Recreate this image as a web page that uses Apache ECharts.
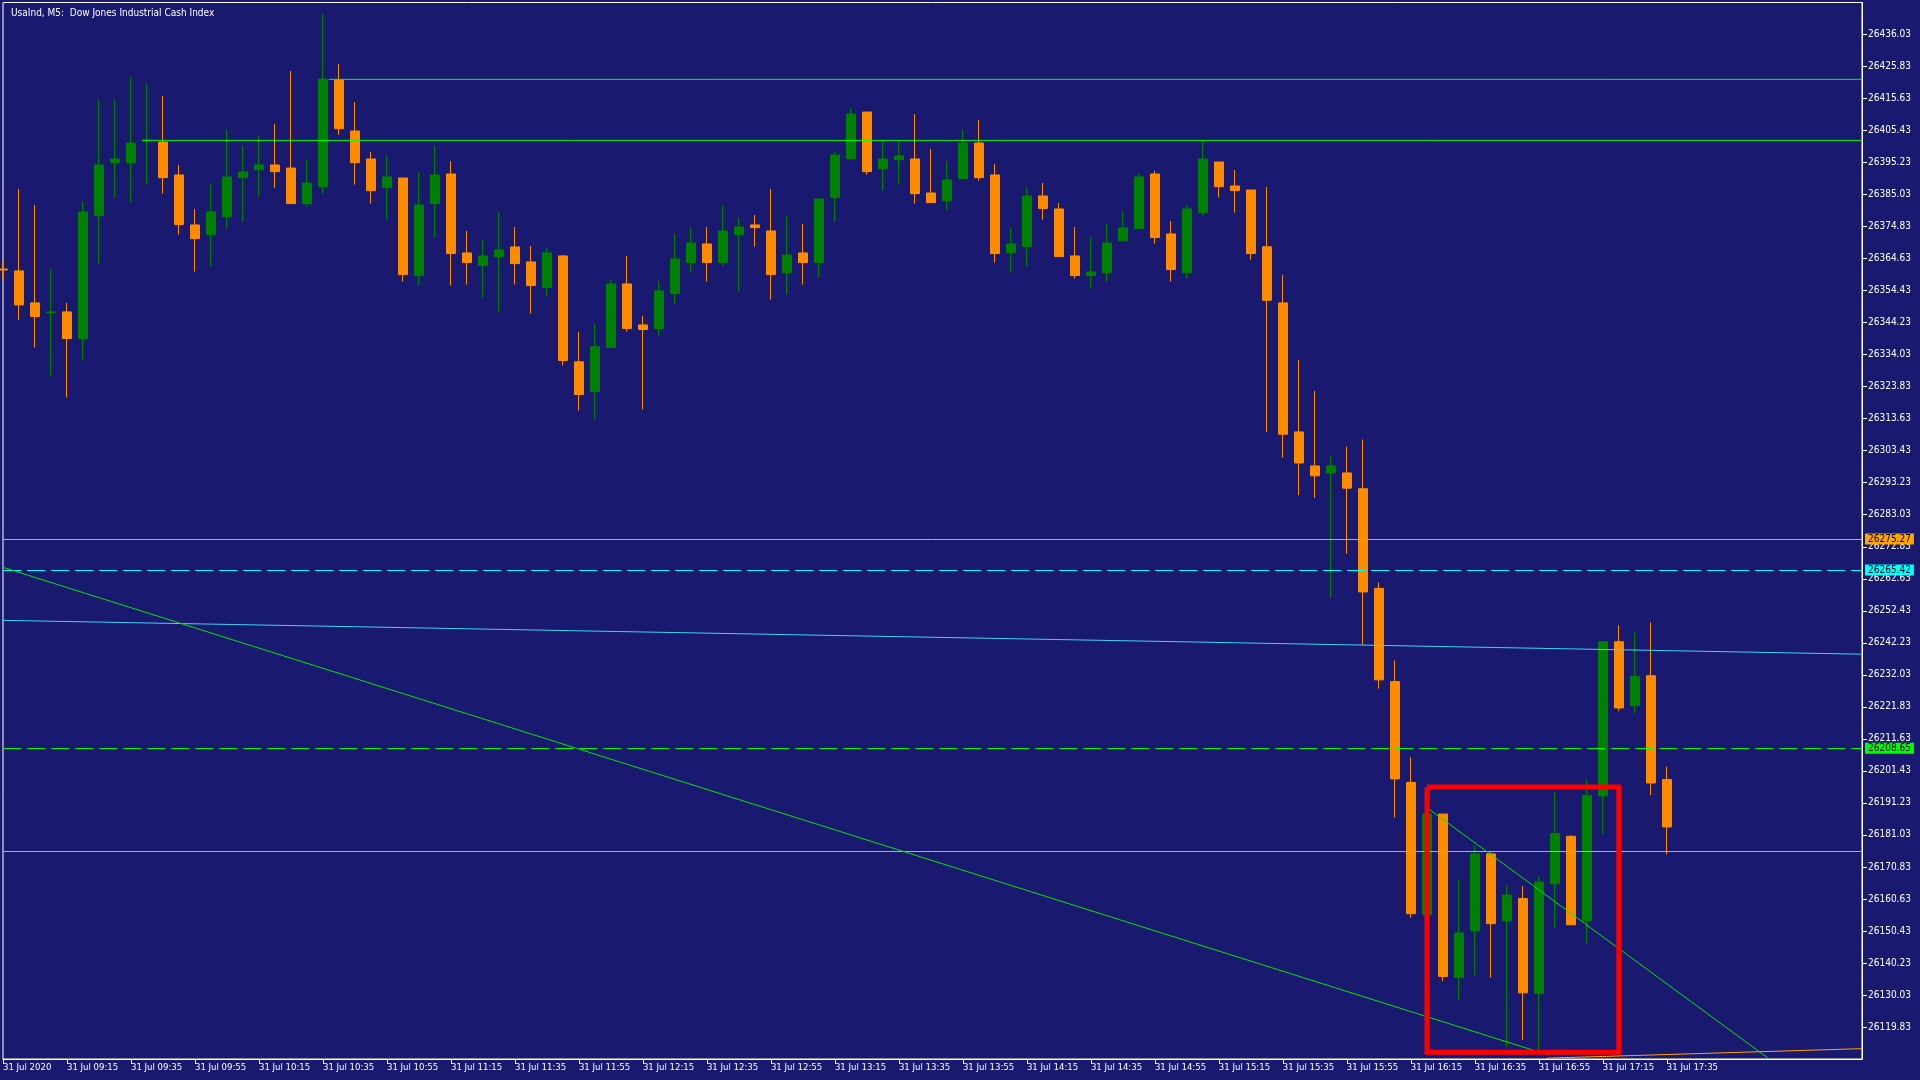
<!DOCTYPE html>
<html>
<head>
<meta charset="utf-8">
<title>UsaInd M5</title>
<script src="https://cdn.jsdelivr.net/npm/echarts@6/dist/echarts.min.js"></script>
<style>
  html, body { margin: 0; padding: 0; background: #191970; }
  #main { width: 1920px; height: 1080px; }
</style>
</head>
<body>
<div id="main"></div>
<script>
// M5 candles, 31 Jul 2020 08:55 .. 17:35 (index 0..104)
const opens = [
  26361.30, 26360.71, 26350.52, 26347.45, 26347.66, 26339.17, 26378.33, 26395.20, 26395.20, 26402.20,
  26401.78, 26391.28, 26375.36, 26372.28, 26378.01, 26390.43, 26392.97, 26394.46, 26393.50, 26382.15,
  26387.56, 26421.52, 26405.28, 26396.37, 26387.24, 26390.32, 26359.23, 26382.15, 26391.60, 26366.44,
  26362.41, 26365.28, 26368.35, 26363.58, 26355.41, 26365.49, 26331.74, 26322.30, 26336.31, 26356.57,
  26343.52, 26342.35, 26353.50, 26363.37, 26369.31, 26363.37, 26372.28, 26375.36, 26373.45, 26360.18,
  26366.44, 26363.37, 26384.06, 26396.48, 26411.33, 26393.29, 26396.16, 26396.37, 26385.55, 26383.11,
  26390.11, 26401.47, 26391.28, 26366.55, 26368.46, 26384.59, 26380.45, 26365.49, 26359.23, 26360.18,
  26370.37, 26374.19, 26391.60, 26372.49, 26360.18, 26379.29, 26395.42, 26387.78, 26386.50, 26368.40,
  26350.51, 26309.42, 26298.59, 26296.35, 26296.35, 26291.31, 26259.56, 26229.87, 26197.75, 26155.55,
  26187.67, 26135.57, 26150.51, 26174.97, 26153.68, 26160.78, 26130.52, 26165.45, 26180.57, 26153.68,
  26193.46, 26242.57, 26222.21, 26231.74, 26198.69
];
const closes = [
  26361.00, 26349.89, 26346.17, 26347.65, 26339.17, 26379.50, 26394.46, 26396.37, 26401.46, 26402.40,
  26390.43, 26375.46, 26371.01, 26379.50, 26390.64, 26392.23, 26394.46, 26392.34, 26382.15, 26388.73,
  26421.84, 26406.03, 26395.20, 26386.29, 26390.64, 26359.54, 26381.72, 26391.28, 26366.23, 26363.37,
  26365.49, 26367.40, 26363.05, 26356.04, 26366.44, 26332.17, 26321.34, 26336.52, 26356.57, 26342.35,
  26342.04, 26354.35, 26364.53, 26369.63, 26363.37, 26373.45, 26374.72, 26374.51, 26359.55, 26365.81,
  26363.37, 26383.64, 26397.64, 26410.70, 26392.34, 26396.37, 26397.33, 26385.33, 26382.47, 26389.69,
  26401.47, 26390.43, 26366.23, 26369.31, 26384.59, 26380.56, 26365.28, 26359.23, 26360.40, 26369.63,
  26374.40, 26390.64, 26371.33, 26361.14, 26380.45, 26396.37, 26387.56, 26386.29, 26366.23, 26351.35,
  26308.68, 26299.53, 26295.42, 26298.59, 26291.50, 26258.44, 26230.43, 26198.87, 26155.92, 26187.67,
  26135.94, 26149.76, 26174.97, 26152.75, 26161.90, 26130.71, 26166.01, 26181.50, 26152.38, 26193.64,
  26242.57, 26221.47, 26231.55, 26197.57, 26183.56
];
const lows = [
  26358.00, 26345.11, 26336.30, 26327.07, 26320.39, 26332.17, 26363.05, 26384.06, 26382.47, 26388.20,
  26385.33, 26372.28, 26360.50, 26362.09, 26374.19, 26376.42, 26384.38, 26387.24, 26382.15, 26381.19,
  26385.33, 26404.12, 26388.20, 26382.15, 26377.05, 26357.32, 26356.04, 26371.33, 26356.04, 26356.36,
  26352.22, 26347.45, 26356.36, 26347.13, 26352.54, 26330.57, 26316.25, 26313.38, 26336.31, 26341.40,
  26316.57, 26340.13, 26350.31, 26360.18, 26357.32, 26362.41, 26354.13, 26368.46, 26351.59, 26353.18,
  26356.36, 26358.59, 26376.42, 26396.16, 26391.38, 26386.29, 26388.20, 26382.15, 26382.47, 26380.24,
  26390.11, 26389.47, 26363.37, 26360.18, 26362.09, 26377.06, 26365.28, 26358.27, 26355.09, 26357.32,
  26370.05, 26374.19, 26369.42, 26357.32, 26358.27, 26378.33, 26384.06, 26379.29, 26364.32, 26309.42,
  26301.21, 26289.25, 26288.32, 26256.57, 26270.58, 26241.64, 26227.63, 26186.55, 26154.61, 26129.78,
  26134.45, 26128.47, 26136.31, 26135.57, 26113.53, 26115.77, 26112.04, 26151.44, 26152.38, 26146.58,
  26181.32, 26220.53, 26219.79, 26193.64, 26174.78
];
const highs = [
  26364.00, 26386.82, 26381.72, 26361.35, 26350.52, 26382.68, 26415.47, 26415.47, 26422.48, 26420.57,
  26416.43, 26394.46, 26380.45, 26388.41, 26405.60, 26400.51, 26403.69, 26407.51, 26424.39, 26396.37,
  26442.53, 26426.61, 26414.52, 26398.60, 26397.64, 26390.32, 26392.23, 26400.51, 26395.73, 26373.45,
  26370.58, 26379.50, 26374.72, 26368.67, 26368.35, 26365.81, 26341.29, 26343.84, 26357.95, 26365.49,
  26346.39, 26357.53, 26372.49, 26374.72, 26374.72, 26381.41, 26377.59, 26378.54, 26386.82, 26378.54,
  26375.68, 26383.64, 26398.60, 26412.61, 26411.33, 26402.42, 26401.78, 26410.70, 26399.56, 26395.73,
  26405.60, 26408.79, 26394.78, 26374.40, 26387.46, 26388.73, 26382.36, 26374.72, 26371.54, 26375.68,
  26379.82, 26391.91, 26392.55, 26376.63, 26381.73, 26402.42, 26395.42, 26392.87, 26386.50, 26387.47,
  26359.47, 26332.39, 26322.49, 26301.77, 26304.75, 26307.00, 26261.43, 26236.59, 26205.78, 26192.00,
  26187.67, 26166.94, 26177.77, 26175.50, 26165.07, 26164.70, 26167.87, 26194.58, 26180.94, 26198.69,
  26242.57, 26247.80, 26245.56, 26248.73, 26202.79
];

// time labels, one every 4 bars
const timeLabels = [
  '31 Jul 2020', '31 Jul 09:15', '31 Jul 09:35', '31 Jul 09:55', '31 Jul 10:15', '31 Jul 10:35',
  '31 Jul 10:55', '31 Jul 11:15', '31 Jul 11:35', '31 Jul 11:55', '31 Jul 12:15', '31 Jul 12:35',
  '31 Jul 12:55', '31 Jul 13:15', '31 Jul 13:35', '31 Jul 13:55', '31 Jul 14:15', '31 Jul 14:35',
  '31 Jul 14:55', '31 Jul 15:15', '31 Jul 15:35', '31 Jul 15:55', '31 Jul 16:15', '31 Jul 16:35',
  '31 Jul 16:55', '31 Jul 17:15', '31 Jul 17:35'
];
const labelStep = 4;

// price scale
const priceMin = 26109.63;
const priceMax = 26446.23;
const priceStep = 10.2;

// chart objects (bar index, price)
const levelOrange = 26275.27;
const levelCyanDash = 26265.42;
const levelGreenDash = 26208.65;
const levelLight = 26175.97;
const greenTop = [[20.36, 26421.75], [116.2, 26421.75]];
const greenMid = [[8.7, 26402.3], [116.2, 26402.3]];
const cyanSlope = [[-0.14, 26249.4], [116.2, 26238.6]];
const trendLong = [[-0.14, 26266.5], [96.6, 26110.9]];
const trendShort = [[89.17, 26189.1], [110.3, 26110.0]];
const trendOrange = [[96.5, 26109.9], [116.2, 26112.93]];
const redBox = [[89.01, 26196.28], [101.0, 26196.28], [101.0, 26111.75], [89.01, 26111.75], [89.01, 26196.28]];

const xMax = 116.2;
const font = "'Liberation Sans Narrow', 'DejaVu Sans Condensed', sans-serif";

const candles = opens.map((o, i) => [i, o, closes[i], lows[i], highs[i]]);

const xTicks = timeLabels.map((t, k) => k * labelStep);
const yTicks = [];
for (let k = 1; priceMin + k * priceStep < priceMax - 1; k++) {
  yTicks.push(+(priceMin + k * priceStep).toFixed(2));
}

function tag(value, color) {
  return {
    yAxis: value,
    lineStyle: { color: color, type: 'solid', width: 1 },
    label: {
      show: true,
      position: 'end',
      distance: 3,
      formatter: value.toFixed(2),
      color: '#000',
      backgroundColor: color,
      padding: [1, 3, 0, 3],
      fontSize: 10,
      fontFamily: font
    }
  };
}

function seg(data, color, width, type) {
  return {
    type: 'line',
    data: data,
    symbol: 'none',
    silent: true,
    animation: false,
    lineStyle: { color: color, width: width || 1, type: type || 'solid' },
    z: 5
  };
}

const chart = echarts.init(document.getElementById('main'));

const orangeTag = tag(levelOrange, '#ffa500');
const cyanTag = tag(levelCyanDash, '#00ffff');
cyanTag.lineStyle.type = [18, 6];
const greenTag = tag(levelGreenDash, '#00ff00');
greenTag.lineStyle.type = [18, 6];

const option = {
  backgroundColor: '#191970',
  animation: false,
  title: {
    text: 'UsaInd, M5:  Dow Jones Industrial Cash Index',
    left: 6,
    top: 3,
    textStyle: { color: '#fff', fontSize: 10, fontWeight: 'normal', fontFamily: font }
  },
  grid: {
    left: 2.5, right: 58, top: 2.5, bottom: 21,
    show: true, borderColor: '#fff', borderWidth: 1
  },
  xAxis: {
    type: 'value',
    min: 0,
    max: xMax,
    splitLine: { show: false },
    axisLine: { onZero: false, lineStyle: { color: '#fff' } },
    axisTick: { customValues: xTicks, length: 5, lineStyle: { color: '#fff' } },
    axisLabel: {
      customValues: xTicks,
      color: '#fff',
      align: 'left',
      margin: 4,
      fontSize: 9.5,
      fontFamily: font,
      formatter: v => timeLabels[Math.round(v / labelStep)] || ''
    }
  },
  yAxis: {
    type: 'value',
    position: 'right',
    min: priceMin,
    max: priceMax,
    scale: true,
    splitLine: { show: false },
    axisLine: { show: true, onZero: false, lineStyle: { color: '#fff' } },
    axisTick: { show: true, customValues: yTicks, length: 5, lineStyle: { color: '#fff' } },
    axisLabel: {
      customValues: yTicks,
      color: '#fff',
      margin: 6,
      fontSize: 10,
      fontFamily: font,
      formatter: v => v.toFixed(2)
    }
  },
  series: [
    {
      type: 'candlestick',
      data: candles,
      barWidth: 10,
      animation: false,
      itemStyle: {
        color: '#008000',
        color0: '#ff8c00',
        borderColor: '#008000',
        borderColor0: '#ff8c00',
        borderWidth: 1
      },
      markLine: {
        symbol: ['none', 'none'],
        silent: true,
        animation: false,
        label: { show: false },
        data: [
          orangeTag,
          cyanTag,
          greenTag,
          { yAxis: levelLight, lineStyle: { color: '#5cc8f5', type: 'solid', width: 1 }, label: { show: false } }
        ]
      }
    },
    seg(greenTop, '#00ff00'),
    seg(greenMid, '#00ff00'),
    seg(cyanSlope, '#3fd4f0'),
    seg(trendLong, '#00e600'),
    seg(trendShort, '#00e600'),
    seg(trendOrange, '#ffa500'),
    Object.assign(seg(redBox, '#ff0000', 5), { lineStyle: { color: '#ff0000', width: 5, join: 'miter' } })
  ]
};

chart.setOption(option);
</script>
</body>
</html>
